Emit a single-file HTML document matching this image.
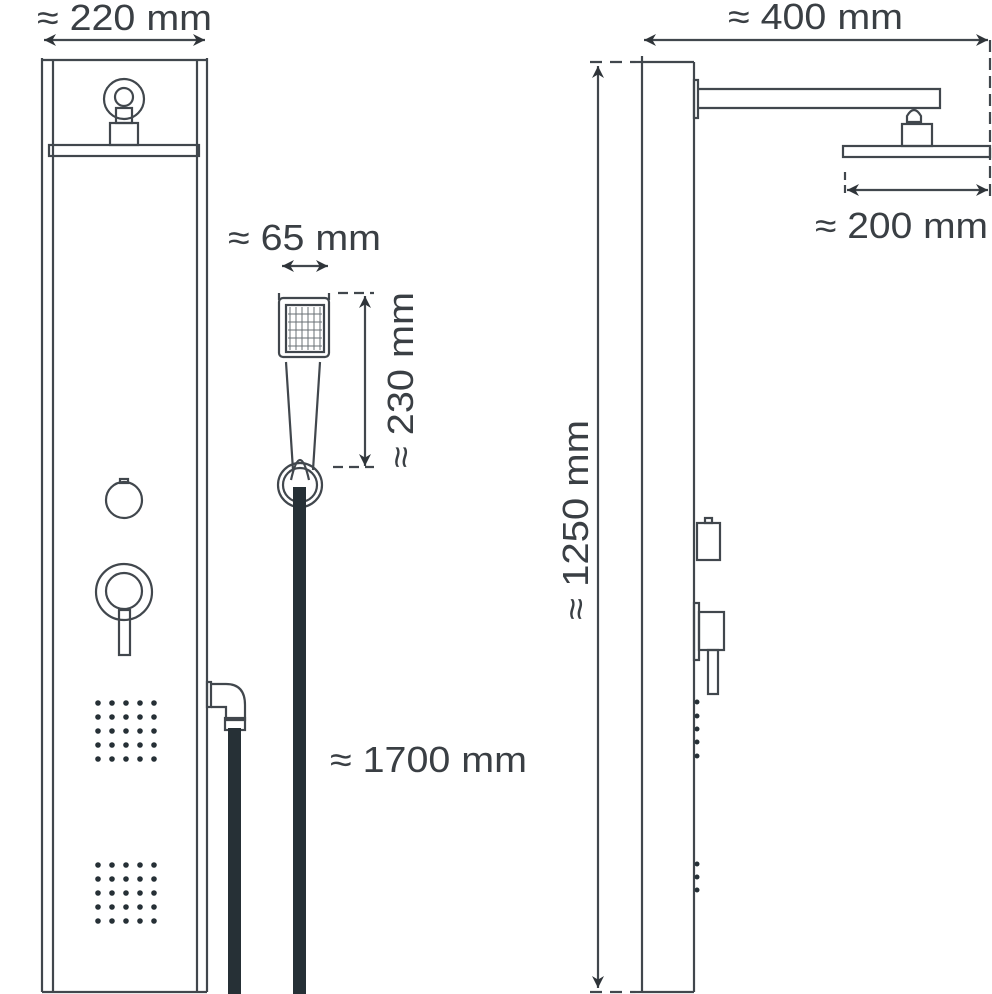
<!DOCTYPE html>
<html><head><meta charset="utf-8"><style>
html,body{margin:0;padding:0;background:#fff;}
svg{display:block}
text{font-family:"Liberation Sans","DejaVu Sans",sans-serif;fill:#3a3f44;}
</style></head><body>
<svg width="992" height="994" viewBox="0 0 992 994" xmlns="http://www.w3.org/2000/svg">
<defs>
<marker id="a" viewBox="0 0 10 10" refX="10" refY="5" markerWidth="14" markerHeight="12" orient="auto-start-reverse" markerUnits="userSpaceOnUse"><path d="M0,0 L10,5 L0,10 L3,5z" fill="#2f3439"/></marker>
</defs>
<g stroke="#41474d" stroke-width="2.2" fill="none">
<!-- LEFT PANEL -->
<line x1="42" y1="58" x2="42" y2="992"/>
<line x1="207" y1="58" x2="207" y2="992"/>
<line x1="53" y1="60" x2="53" y2="992"/>
<line x1="197" y1="60" x2="197" y2="992"/>
<line x1="42" y1="60" x2="207" y2="60"/>
<line x1="42" y1="992" x2="207" y2="992"/>
<rect x="49" y="145" width="150" height="11"/>
<circle cx="124" cy="99" r="20"/>
<circle cx="124" cy="97" r="9"/>
<rect x="116" y="108" width="16" height="15"/>
<rect x="110" y="123" width="28" height="22"/>
<circle cx="124" cy="500" r="18"/>
<rect x="120" y="479" width="8" height="4"/>
<circle cx="124" cy="592" r="28"/>
<circle cx="124" cy="591" r="18"/>
<rect x="119" y="610" width="11" height="45"/>
<!-- elbow -->
<rect x="207" y="682" width="4" height="25"/>
<path d="M211,684 H226 Q245,684 245,705 V720 H226 V707 H211"/>
<rect x="225" y="718" width="20" height="12"/>
<!-- DIMS -->
<line x1="44" y1="40" x2="205" y2="40" marker-start="url(#a)" marker-end="url(#a)"/>
<!-- handheld -->
<line x1="279" y1="293" x2="279" y2="300"/>
<line x1="329" y1="293" x2="329" y2="300"/>
<rect x="279" y="298" width="50" height="59" rx="4"/>
<rect x="286" y="305" width="38" height="47"/>
<path d="M286,362 L293,470 M320,362 L313,470"/>
<path d="M291,480 Q300,440 309,480"/>
<circle cx="300" cy="485" r="22"/>
<circle cx="300" cy="485" r="17"/>
<line x1="282" y1="266" x2="328" y2="266" marker-start="url(#a)" marker-end="url(#a)"/>
<line x1="365" y1="296" x2="365" y2="466" marker-start="url(#a)" marker-end="url(#a)"/>
<line x1="338" y1="293" x2="374" y2="293" stroke-dasharray="10,6"/>
<line x1="333" y1="467" x2="374" y2="467" stroke-dasharray="10,6"/>
<!-- RIGHT PANEL -->
<line x1="642" y1="56" x2="642" y2="992"/>
<line x1="694" y1="62" x2="694" y2="992"/>
<line x1="642" y1="62" x2="694" y2="62"/>
<line x1="642" y1="992" x2="694" y2="992"/>
<rect x="694" y="80" width="4" height="38"/>
<path d="M698,89 H940 V108 H698"/>
<path d="M907,116 Q914,104 921,116 V122 H907z"/>
<rect x="902" y="124" width="30" height="22"/>
<rect x="843" y="146" width="147" height="11"/>
<line x1="644" y1="40" x2="988" y2="40" marker-start="url(#a)" marker-end="url(#a)"/>
<line x1="990" y1="40" x2="990" y2="198" stroke-dasharray="12,6"/>
<line x1="845" y1="172" x2="845" y2="198" stroke-dasharray="8,5"/>
<line x1="847" y1="190" x2="988" y2="190" marker-start="url(#a)" marker-end="url(#a)"/>
<line x1="598" y1="66" x2="598" y2="988" marker-start="url(#a)" marker-end="url(#a)"/>
<line x1="590" y1="62" x2="642" y2="62" stroke-dasharray="12,8"/>
<line x1="590" y1="992" x2="642" y2="992" stroke-dasharray="12,8"/>
<rect x="697" y="523" width="23" height="37"/>
<rect x="705" y="518" width="7" height="5"/>
<rect x="694" y="603" width="5" height="57"/>
<rect x="699" y="612" width="25" height="38"/>
<rect x="708" y="650" width="10" height="44"/>
</g>
<!-- hoses -->
<rect x="228" y="728" width="13" height="266" fill="#263036"/>
<rect x="293" y="487" width="13" height="507" fill="#263036"/>
<!-- dots -->
<g fill="#263036">
<g id="d">
<circle cx="98" cy="703" r="2.8"/><circle cx="112" cy="703" r="2.8"/><circle cx="126" cy="703" r="2.8"/><circle cx="140" cy="703" r="2.8"/><circle cx="154" cy="703" r="2.8"/>
<circle cx="98" cy="717" r="2.8"/><circle cx="112" cy="717" r="2.8"/><circle cx="126" cy="717" r="2.8"/><circle cx="140" cy="717" r="2.8"/><circle cx="154" cy="717" r="2.8"/>
<circle cx="98" cy="731" r="2.8"/><circle cx="112" cy="731" r="2.8"/><circle cx="126" cy="731" r="2.8"/><circle cx="140" cy="731" r="2.8"/><circle cx="154" cy="731" r="2.8"/>
<circle cx="98" cy="745" r="2.8"/><circle cx="112" cy="745" r="2.8"/><circle cx="126" cy="745" r="2.8"/><circle cx="140" cy="745" r="2.8"/><circle cx="154" cy="745" r="2.8"/>
<circle cx="98" cy="759" r="2.8"/><circle cx="112" cy="759" r="2.8"/><circle cx="126" cy="759" r="2.8"/><circle cx="140" cy="759" r="2.8"/><circle cx="154" cy="759" r="2.8"/>
</g>
<use href="#d" y="162"/>
<circle cx="697" cy="702" r="2.5"/><circle cx="697" cy="716" r="2.5"/><circle cx="697" cy="729" r="2.5"/><circle cx="697" cy="742" r="2.5"/><circle cx="697" cy="756" r="2.5"/>
<circle cx="697" cy="864" r="2.5"/><circle cx="697" cy="877" r="2.5"/><circle cx="697" cy="890" r="2.5"/>
</g>
<g stroke="#6a7076" stroke-width="1" fill="none">
<path d="M290,307 V350 M296,307 V350 M302,307 V350 M308,307 V350 M314,307 V350 M320,307 V350 M288,314 H322 M288,322 H322 M288,330 H322 M288,338 H322 M288,346 H322"/>
</g>
<!-- text -->
<text x="37" y="30" font-size="36" textLength="175" lengthAdjust="spacingAndGlyphs">≈ 220 mm</text>
<text x="228" y="250" font-size="36" textLength="153" lengthAdjust="spacingAndGlyphs">≈ 65 mm</text>
<text x="330" y="772" font-size="36" textLength="197" lengthAdjust="spacingAndGlyphs">≈ 1700 mm</text>
<text x="728" y="29" font-size="36" textLength="175" lengthAdjust="spacingAndGlyphs">≈ 400 mm</text>
<text x="815" y="238" font-size="36" textLength="173" lengthAdjust="spacingAndGlyphs">≈ 200 mm</text>
<text transform="translate(413,380) rotate(-90)" text-anchor="middle" font-size="36" textLength="176" lengthAdjust="spacingAndGlyphs">≈ 230 mm</text>
<text transform="translate(588,520) rotate(-90)" text-anchor="middle" font-size="36" textLength="200" lengthAdjust="spacingAndGlyphs">≈ 1250 mm</text>
</svg>
</body></html>
